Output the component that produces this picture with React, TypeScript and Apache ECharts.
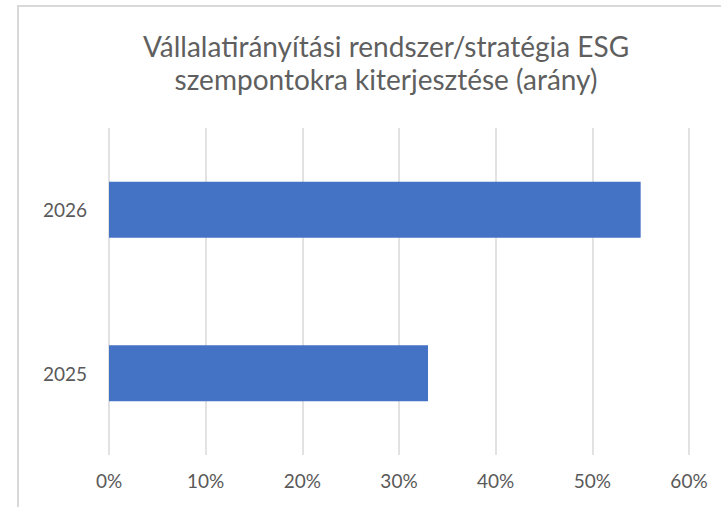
import React, { useEffect, useRef } from "react";
import * as echarts from "echarts";

const titleLines = ["Vállalatirányítási rendszer/stratégia ESG", "szempontokra kiterjesztése (arány)"];
const categories = ["2025", "2026"];
const values = [0.33, 0.55];
const xMin = 0;
const xMax = 0.6;
const xInterval = 0.1;

export default function App() {
  const ref = useRef<HTMLDivElement>(null);
  useEffect(() => {
    if (!ref.current) return;
    const chart = echarts.init(ref.current, null, { renderer: "svg" });
    chart.setOption({
      animation: false,
      backgroundColor: "#ffffff",
      title: {
        text: titleLines.join("\n"),
        left: 381,
        textAlign: "center",
        top: 24,
        padding: 5,
        textStyle: {
          fontFamily: "Lato",
          fontSize: 28,
          fontWeight: "normal",
          color: "#5f5f5f",
          lineHeight: 33,
        },
      },
      graphic: [
        {
          type: "rect",
          shape: { x: 18, y: 6, width: 720, height: 520 },
          style: { fill: "none", stroke: "#d9d9d9", lineWidth: 2 },
          silent: true,
        },
      ],
      grid: { left: 109, right: 32, top: 128, bottom: 52, containLabel: false },
      xAxis: {
        type: "value",
        min: xMin,
        max: xMax,
        interval: xInterval,
        axisLine: { show: false },
        axisTick: { show: false },
        splitLine: { show: true, lineStyle: { color: "#d9d9d9", width: 1.5 } },
        axisLabel: {
          margin: 16,
          color: "#595959",
          fontSize: 19,
          fontFamily: "Lato",
          formatter: (v: number) => Math.round(v * 100) + "%",
        },
      },
      yAxis: {
        type: "category",
        data: categories,
        axisLine: { show: false },
        axisTick: { show: false },
        axisLabel: {
          margin: 22,
          color: "#595959",
          fontSize: 19,
          fontFamily: "Lato",
        },
      },
      series: [
        {
          type: "bar",
          data: values,
          barWidth: 56,
          itemStyle: { color: "#4472C4" },
        },
      ],
    });
    return () => chart.dispose();
  }, []);
  return (
    <div
      ref={ref}
      style={{ position: "fixed", left: 0, top: 0, width: 721, height: 507 }}
    />
  );
}
